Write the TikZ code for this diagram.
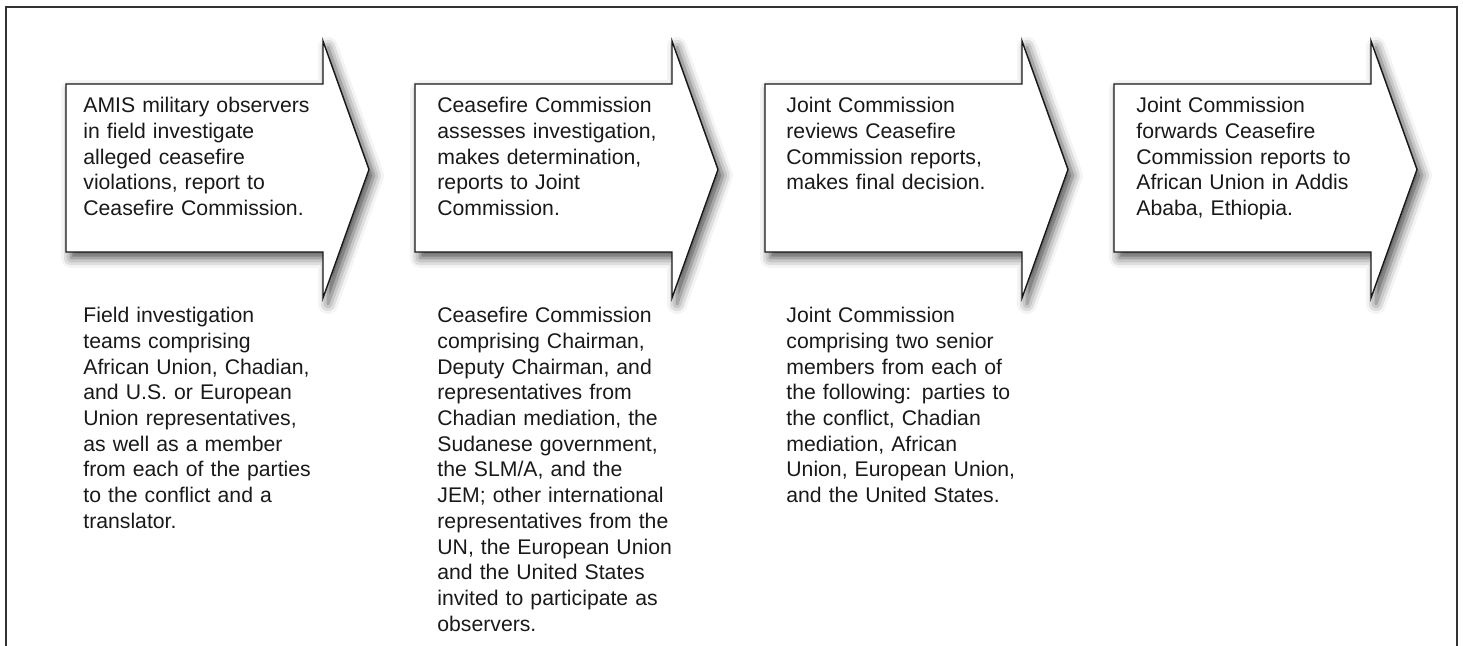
\documentclass[tikz,border=0pt]{standalone}
\usepackage{fontspec}
\setmainfont{Liberation Sans}
\usetikzlibrary{shadows.blur}

\begin{document}
\begin{tikzpicture}
		[x=0.5pt,y=-0.5pt,
		frame/.style ={draw=black!80, line width=0.75pt},
		stage/.style ={draw=black!90, line width=0.7pt, fill=white, line join=miter,
		blur shadow={shadow xshift=2.5pt, shadow yshift=-3pt, shadow blur radius=5pt, shadow opacity=70}},
		steptext/.style ={anchor=north west, inner sep=0pt, text width=130pt, align=left,
		text=black!90, font=\fontsize{10.6}{12.85}\selectfont},
		]

		\useasboundingbox (0,0) rectangle (1463,646);
		\draw[frame] (6,700) -- (6,7) -- (1457,7) -- (1457,700);

		\draw[stage] (66,84) -- (323,84) -- (323,41) -- (369,169.5) -- (323,298) -- (323,252) -- (66,252) -- cycle;
		\draw[stage] (415,84) -- (672,84) -- (672,41) -- (718,169.5) -- (672,298) -- (672,252) -- (415,252) -- cycle;
		\draw[stage] (765,84) -- (1022,84) -- (1022,41) -- (1068,169.5) -- (1022,298) -- (1022,252) -- (765,252) -- cycle;
		\draw[stage] (1114,84) -- (1371,84) -- (1371,41) -- (1417,169.5) -- (1371,298) -- (1371,252) -- (1114,252) -- cycle;

		\draw (83,97) node[steptext] (A1) {AMIS military observers\\in field investigate\\alleged ceasefire\\violations, report to\\Ceasefire Commission.};
		\draw (437,97) node[steptext] (A2) {Ceasefire Commission\\assesses investigation,\\makes determination,\\reports to Joint\\Commission.};
		\draw (786,97) node[steptext] (A3) {Joint Commission\\reviews Ceasefire\\Commission reports,\\makes final decision.};
		\draw (1136,97) node[steptext] (A4) {Joint Commission\\forwards Ceasefire\\Commission reports to\\African Union in Addis\\Ababa, Ethiopia.};

		\draw (83,307) node[steptext] (B1) {Field investigation\\teams comprising\\African Union, Chadian,\\and U.S. or European\\Union representatives,\\as well as a member\\from each of the parties\\to the conflict and a\\translator.};
		\draw (437,307) node[steptext] (B2) {Ceasefire Commission\\comprising Chairman,\\Deputy Chairman, and\\representatives from\\Chadian mediation, the\\Sudanese government,\\the SLM/A, and the\\JEM; other international\\representatives from the\\UN, the European Union\\and the United States\\invited to participate as\\observers.};
		\draw (786,307) node[steptext] (B3) {Joint Commission\\comprising two senior\\members from each of\\the following: parties to\\the conflict, Chadian\\mediation, African\\Union, European Union,\\and the United States.};
	\end{tikzpicture}
\end{document}
